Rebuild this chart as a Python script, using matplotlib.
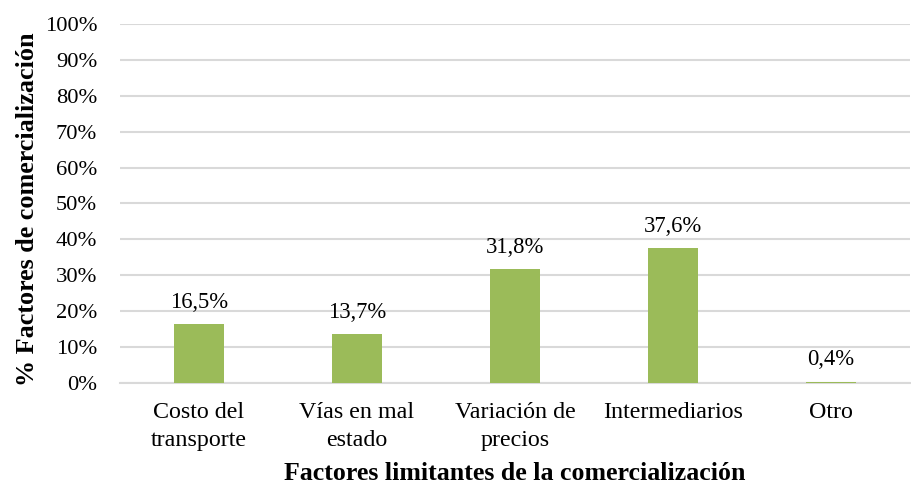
import matplotlib
matplotlib.use('Agg')
import matplotlib.pyplot as plt
from matplotlib.ticker import FuncFormatter

categories = ['Costo del\ntransporte', 'Vías en mal\nestado', 'Variación de\nprecios',
              'Intermediarios', 'Otro']
values = [16.5, 13.7, 31.8, 37.6, 0.4]
labels = ['16,5%', '13,7%', '31,8%', '37,6%', '0,4%']

plt.rcParams['font.family'] = ['Liberation Serif', 'DejaVu Serif']

fig = plt.figure(figsize=(9.12, 4.87), dpi=100)
ax = fig.add_axes([0.1316, 0.2136, 0.866, 0.7374])

x = range(len(categories))
ax.bar(x, values, width=0.32, color='#9BBB59', zorder=3)

# data labels above bars
for xi, v, lab in zip(x, values, labels):
    ax.text(xi, v + 3.1, lab, ha='center', va='bottom', fontsize=16.3, color='black')

ax.set_ylim(0, 100)
ax.set_xlim(-0.5, len(categories) - 0.5)
ax.set_yticks(range(0, 101, 10))
ax.yaxis.set_major_formatter(FuncFormatter(lambda v, p: f'{int(v)}%'))
ax.set_xticks(list(x))
ax.set_xticklabels(categories, fontsize=17.3, linespacing=1.42)
ax.tick_params(axis='y', labelsize=16.2, length=0, pad=16.5, labelcolor='black')
ax.tick_params(axis='x', length=0, pad=14, labelcolor='black')

ax.grid(axis='y', color='#D9D9D9', linewidth=1.5, zorder=0)
for s in ['top', 'right', 'left']:
    ax.spines[s].set_visible(False)
ax.spines['bottom'].set_color('#D9D9D9')
ax.spines['bottom'].set_linewidth(1.5)

ax.set_ylabel('% Factores de comercialización', fontsize=18.8, fontweight='bold', labelpad=4)
ax.yaxis.label.set_y(0.483)
ax.set_xlabel('Factores limitantes de la comercialización', fontsize=18.6,
              fontweight='bold', labelpad=8)

plt.savefig('out.png', dpi=100)
plt.close()
